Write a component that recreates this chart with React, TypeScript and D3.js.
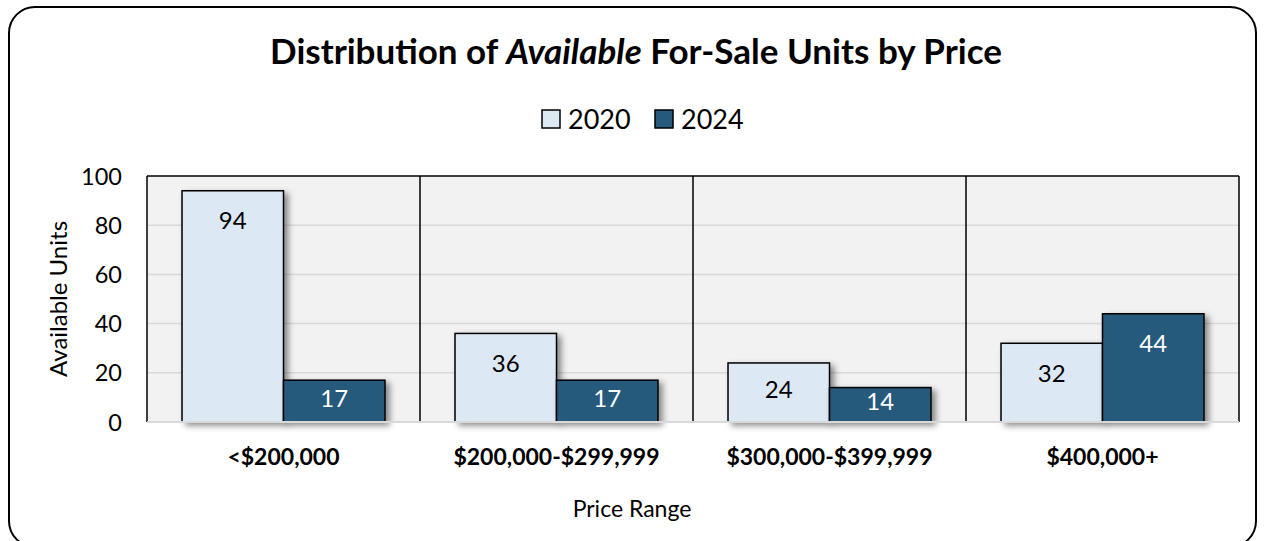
import React from "react";
import * as d3 from "d3";

const categories = ["<$200,000", "$200,000-$299,999", "$300,000-$399,999", "$400,000+"];
const seriesNames = ["2020", "2024"];
const values2020 = [94, 36, 24, 32];
const values2024 = [17, 17, 14, 44];
const yTicks = [0, 20, 40, 60, 80, 100];

const colors = ["#dde8f5", "#265a7d"];
const labelColors = ["#000000", "#ffffff"];
const FONT = "Lato, 'Open Sans', sans-serif";

export default function App() {
  const W = 1265, H = 541;
  const plot = { left: 147, right: 1239, top: 176, bottom: 422 };
  const x = d3.scaleBand<string>().domain(categories).range([plot.left, plot.right]).padding(0);
  const xi = d3.scaleBand<string>().domain(seriesNames).range([0, x.bandwidth()]).paddingInner(0).paddingOuter(0.345);
  const y = d3.scaleLinear().domain([0, 100]).range([plot.bottom, plot.top]);
  const series = [values2020, values2024];
  const labelSize = 24;

  return (
    <div style={{ position: "absolute", left: 0, top: 0 }}>
      <svg width={W} height={H} style={{ display: "block", fontFamily: FONT }}>
        <defs>
          <filter id="sh" x="-20%" y="-20%" width="150%" height="150%">
            <feDropShadow dx="4" dy="3" stdDeviation="3" floodColor="#000" floodOpacity="0.45" />
          </filter>
        </defs>
        <rect x={0} y={0} width={W} height={H} fill="#fff" />
        <rect x={9} y={7} width={1247} height={540} rx={26} ry={26} fill="#fff" stroke="#000" strokeWidth={2} />

        <text x={636} y={64} textAnchor="middle" fontSize={35} fontWeight="bold" fill="#000">
          Distribution of <tspan fontStyle="italic">Available</tspan> For-Sale Units by Price
        </text>

        {/* legend */}
        {seriesNames.map((s, i) => {
          const lx = i === 0 ? 542 : 655;
          return (
            <g key={s}>
              <rect x={lx} y={110} width={18} height={18} fill={colors[i]} stroke="#000" strokeWidth={1.5} />
              <text x={lx + 26} y={129} fontSize={27} fill="#000">{s}</text>
            </g>
          );
        })}

        {/* plot area */}
        <rect x={plot.left} y={plot.top} width={plot.right - plot.left} height={plot.bottom - plot.top} fill="#f2f2f2" />
        {yTicks.filter(t => t > 0 && t < 100).map(t => (
          <line key={t} x1={plot.left} x2={plot.right} y1={y(t)} y2={y(t)} stroke="#d9d9d9" strokeWidth={1.5} />
        ))}
        {categories.slice(1).map(c => (
          <line key={c} x1={x(c)!} x2={x(c)!} y1={plot.top} y2={plot.bottom} stroke="#000" strokeWidth={1.5} />
        ))}
        <line x1={plot.left} x2={plot.right} y1={plot.top} y2={plot.top} stroke="#000" strokeWidth={1.5} />
        <line x1={plot.left} x2={plot.left} y1={plot.top} y2={plot.bottom} stroke="#000" strokeWidth={1.5} />
        <line x1={plot.right} x2={plot.right} y1={plot.top} y2={plot.bottom} stroke="#000" strokeWidth={1.5} />

        {/* bars */}
        {categories.map((c, ci) =>
          seriesNames.map((s, si) => {
            const v = series[si][ci];
            const bx = x(c)! + xi(s)!;
            return (
              <rect key={c + s} x={bx} y={y(v)} width={xi.bandwidth()} height={y(0) - y(v)}
                fill={colors[si]} stroke="#000" strokeWidth={1.5} filter="url(#sh)" />
            );
          })
        )}
        <line x1={plot.left} x2={plot.right} y1={plot.bottom} y2={plot.bottom} stroke="#d9d9d9" strokeWidth={2} />
        {categories.map((c, ci) =>
          seriesNames.map((s, si) => {
            const v = series[si][ci];
            const bx = x(c)! + xi(s)! + xi.bandwidth() / 2;
            const h = y(0) - y(v);
            const off = Math.min(30, h / 2 - 3);
            return (
              <text key={"l" + c + s} x={bx} y={y(v) + off + labelSize * 0.36} textAnchor="middle" fontSize={labelSize} fill={labelColors[si]}>
                {v}
              </text>
            );
          })
        )}

        {/* y axis */}
        {yTicks.map(t => (
          <text key={t} x={122} y={y(t) + 8.5} textAnchor="end" fontSize={23.5} fill="#000">{t}</text>
        ))}
        <text transform={`translate(67,${(plot.top + plot.bottom) / 2}) rotate(-90)`} textAnchor="middle" fontSize={24} fill="#000">
          Available Units
        </text>

        {/* x axis */}
        {categories.map(c => (
          <text key={c} x={x(c)! + x.bandwidth() / 2} y={465} textAnchor="middle" fontSize={23} fontWeight="bold" fill="#000">
            {c}
          </text>
        ))}
        <text x={632} y={517} textAnchor="middle" fontSize={23} fill="#000">Price Range</text>
      </svg>
    </div>
  );
}
